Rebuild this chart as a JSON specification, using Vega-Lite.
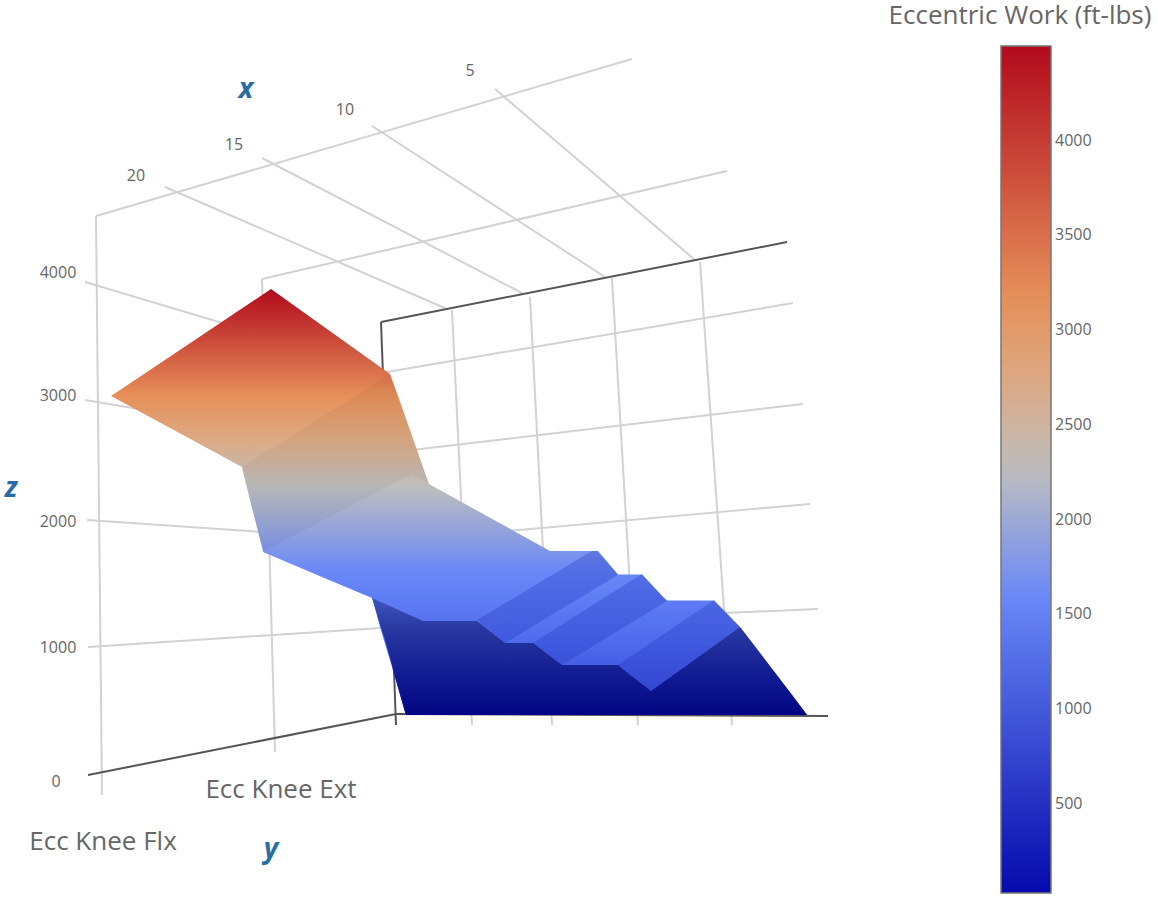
{
"$schema":"https://vega.github.io/schema/vega-lite/v6.json",
"width":1158,"height":899,"padding":0,"autosize":{"type":"none"},
"background":"white",
"config":{"view":{"stroke":null}},
"datasets":{
"grid":[
{"x":96,"y":216,"x2":632,"y2":59},{"x":262,"y":279,"x2":727,"y2":171},
{"x":96,"y":216,"x2":102,"y2":795},{"x":262,"y":279,"x2":275,"y2":752},
{"x":452,"y":310,"x2":472,"y2":725},{"x":530,"y":297,"x2":552,"y2":725},{"x":612,"y":278,"x2":638,"y2":725},{"x":700,"y":262,"x2":732,"y2":725},
{"x":165,"y":187,"x2":447,"y2":309},{"x":262,"y":158,"x2":522,"y2":293},{"x":372,"y":126,"x2":605,"y2":277},{"x":495,"y":89,"x2":695,"y2":260},
{"x":85,"y":282,"x2":387,"y2":372},{"x":387,"y":372,"x2":793,"y2":303},
{"x":85,"y":400,"x2":395,"y2":452},{"x":395,"y":452,"x2":803,"y2":404},
{"x":87,"y":520,"x2":395,"y2":541},{"x":395,"y":541,"x2":810,"y2":504},
{"x":88,"y":647,"x2":396,"y2":627},{"x":396,"y":627,"x2":818,"y2":609}
],
"frame":[
{"x":381,"y":322,"x2":787,"y2":242},{"x":381,"y":322,"x2":396,"y2":725},
{"x":88,"y":775,"x2":396,"y2":714},{"x":396,"y":714,"x2":828,"y2":716}
],
"surface":[
{"y":289,"x":271,"x2":271},{"y":374,"x":144,"x2":390},{"y":396,"x":111,"x2":398},{"y":467,"x":242,"x2":423},{"y":484,"x":246,"x2":429},
{"y":551,"x":263,"x2":550},{"y":551.1,"x":263,"x2":598},{"y":552,"x":263,"x2":599},{"y":574.4,"x":316,"x2":618},{"y":574.5,"x":316,"x2":642},
{"y":598,"x":372,"x2":664},{"y":600.4,"x":373,"x2":667},{"y":600.5,"x":373,"x2":714},{"y":627,"x":380,"x2":740},{"y":670,"x":393,"x2":773},{"y":712,"x":405,"x2":805},{"y":715,"x":406,"x2":807}
],
"fold":[
{"id":"a","y":374,"x":390,"x2":390},{"id":"a","y":467,"x":242,"x2":423},{"id":"a","y":473.9,"x":243,"x2":425},{"id":"a","y":474,"x":243,"x2":412},{"id":"a","y":552,"x":263,"x2":263},
{"id":"b","y":474,"x":412,"x2":425},{"id":"b","y":484,"x":429,"x2":429}
],
"steps":[
{"id":"s1","y":551,"x":592,"x2":597},{"id":"s1","y":575,"x":552,"x2":618},{"id":"s1","y":620,"x":477,"x2":543},{"id":"s1","y":643,"x":505,"x2":505},
{"id":"s2","y":574,"x":642,"x2":642},{"id":"s2","y":601,"x":599,"x2":667},{"id":"s2","y":643,"x":533,"x2":598},{"id":"s2","y":665,"x":562,"x2":562},
{"id":"s3","y":600,"x":714,"x2":714},{"id":"s3","y":627,"x":674,"x2":740},{"id":"s3","y":665,"x":618,"x2":687},{"id":"s3","y":691,"x":651,"x2":651}
],
"frontLeft":[
{"y":598,"x":372,"x2":372},{"y":620.9,"x":379,"x2":423},{"y":621,"x":379,"x2":477},{"y":642.9,"x":386,"x2":505},{"y":643,"x":386,"x2":533},{"y":664.9,"x":392,"x2":562},{"y":665,"x":392,"x2":618},{"y":670,"x":393,"x2":624},{"y":691,"x":399,"x2":651},{"y":712,"x":405,"x2":651},{"y":715,"x":406,"x2":651}
],
"frontRight":[
{"y":627,"x":740,"x2":740},{"y":691,"x":651,"x2":789},{"y":715,"x":651,"x2":807}
],
"vertices":[
{"x":271,"y":289,"z":4500},{"x":111,"y":396,"z":3150},{"x":390,"y":374,"z":3350},{"x":242,"y":467,"z":2500},{"x":263,"y":552,"z":1700},{"x":429,"y":484,"z":2300},
{"x":412,"y":474,"z":2350},{"x":552,"y":552,"z":1600},{"x":597,"y":550,"z":1600},{"x":618,"y":575,"z":1450},{"x":642,"y":574,"z":1450},{"x":667,"y":601,"z":1250},{"x":714,"y":600,"z":1250},{"x":740,"y":627,"z":1100},
{"x":423,"y":621,"z":1250},{"x":477,"y":620,"z":1250},{"x":505,"y":643,"z":1050},{"x":533,"y":643,"z":1050},{"x":562,"y":665,"z":900},{"x":618,"y":665,"z":900},{"x":651,"y":691,"z":800},
{"x":405,"y":712,"z":30},{"x":807,"y":715,"z":30},{"x":372,"y":598,"z":1300}
],
"ticks":[
{"x":470,"y":71,"t":"5"},{"x":345,"y":110,"t":"10"},{"x":234,"y":145,"t":"15"},{"x":136,"y":176,"t":"20"},
{"x":58,"y":273,"t":"4000"},{"x":58,"y":396,"t":"3000"},{"x":58,"y":522,"t":"2000"},{"x":58,"y":648,"t":"1000"},{"x":56,"y":782,"t":"0"}
],
"cats":[{"x":281,"y":790,"t":"Ecc Knee Ext"},{"x":103,"y":842,"t":"Ecc Knee Flx"}],
"head":[{"x":1020,"y":16,"t":"Eccentric Work (ft-lbs)"}],
"titles":[{"x":246,"y":90,"t":"x"},{"x":271,"y":850,"t":"y"},{"x":11,"y":489,"t":"z"}]
},
"layer":[
{"data":{"name":"grid"},"mark":{"type":"rule","color":"#d2d2d2","strokeWidth":2},
 "encoding":{"x":{"field":"x","type":"quantitative","scale":{"domain":[0,1158],"nice":false,"zero":false},"axis":null},"y":{"field":"y","type":"quantitative","scale":{"domain":[899,0],"nice":false,"zero":false},"axis":null},"x2":{"field":"x2"},"y2":{"field":"y2"}}},
{"data":{"name":"frame"},"mark":{"type":"rule","color":"#555555","strokeWidth":2},
 "encoding":{"x":{"field":"x","type":"quantitative"},"y":{"field":"y","type":"quantitative"},"x2":{"field":"x2"},"y2":{"field":"y2"}}},
{"data":{"name":"surface"},"mark":{"type":"area","orient":"horizontal","color":{"gradient":"linear","x1":0,"y1":0,"x2":0,"y2":1,"stops":[{"offset":0,"color":"rgb(178,10,28)"},{"offset":0.2535,"color":"rgb(230,145,90)"},{"offset":0.354,"color":"rgb(220,170,132)"},{"offset":0.465,"color":"rgb(190,190,190)"},{"offset":0.66,"color":"rgb(106,137,247)"},{"offset":0.824,"color":"rgb(80,108,238)"},{"offset":0.965,"color":"rgb(58,75,215)"},{"offset":1,"color":"rgb(58,75,215)"}]}},
 "encoding":{"y":{"field":"y","type":"quantitative"},"x":{"field":"x","type":"quantitative"},"x2":{"field":"x2"}}},
{"data":{"name":"fold"},"mark":{"type":"area","orient":"horizontal","color":"black","opacity":0.035},
 "encoding":{"y":{"field":"y","type":"quantitative"},"x":{"field":"x","type":"quantitative"},"x2":{"field":"x2"},"detail":{"field":"id"}}},
{"data":{"name":"steps"},"mark":{"type":"area","orient":"horizontal","color":"rgb(30,50,190)","opacity":0.3},
 "encoding":{"y":{"field":"y","type":"quantitative"},"x":{"field":"x","type":"quantitative"},"x2":{"field":"x2"},"detail":{"field":"id"}}},
{"data":{"name":"frontLeft"},"mark":{"type":"area","orient":"horizontal","color":{"gradient":"linear","x1":0,"y1":0,"x2":0,"y2":1,"stops":[{"offset":0,"color":"rgb(62,85,190)"},{"offset":0.27,"color":"rgb(40,55,160)"},{"offset":0.7,"color":"rgb(15,25,145)"},{"offset":1,"color":"rgb(3,5,130)"}]}},
 "encoding":{"y":{"field":"y","type":"quantitative"},"x":{"field":"x","type":"quantitative"},"x2":{"field":"x2"}}},
{"data":{"name":"frontRight"},"mark":{"type":"area","orient":"horizontal","color":{"gradient":"linear","x1":0,"y1":0,"x2":0,"y2":1,"stops":[{"offset":0,"color":"rgb(42,58,162)"},{"offset":0.6,"color":"rgb(15,25,145)"},{"offset":1,"color":"rgb(3,5,130)"}]}},
 "encoding":{"y":{"field":"y","type":"quantitative"},"x":{"field":"x","type":"quantitative"},"x2":{"field":"x2"}}},
{"data":{"name":"vertices"},"mark":{"type":"point","filled":true,"opacity":0,"size":4},
 "encoding":{"x":{"field":"x","type":"quantitative"},"y":{"field":"y","type":"quantitative"},
  "color":{"field":"z","type":"quantitative","scale":{"domain":[30,1594.5,2265,2712,3159,4500],"range":["rgb(5,10,172)","rgb(106,137,247)","rgb(190,190,190)","rgb(220,170,132)","rgb(230,145,90)","rgb(178,10,28)"],"interpolate":"rgb"},
   "legend":{"orient":"none","legendX":1001,"legendY":46,"title":null,"direction":"vertical","format":"d","gradientLength":847,"gradientThickness":50,"gradientStrokeColor":"#777777","gradientStrokeWidth":1.5,"values":[500,1000,1500,2000,2500,3000,3500,4000],"labelFont":"Open Sans","labelFontSize":16,"labelColor":"#666666","labelOffset":4}}}},
{"data":{"name":"ticks"},"mark":{"type":"text","font":"Open Sans","fontSize":16,"color":"#666666","align":"center","baseline":"middle"},
 "encoding":{"x":{"field":"x","type":"quantitative"},"y":{"field":"y","type":"quantitative"},"text":{"field":"t"}}},
{"data":{"name":"cats"},"mark":{"type":"text","font":"Open Sans","fontSize":26,"color":"#666666","align":"center","baseline":"middle"},
 "encoding":{"x":{"field":"x","type":"quantitative"},"y":{"field":"y","type":"quantitative"},"text":{"field":"t"}}},
{"data":{"name":"head"},"mark":{"type":"text","font":"Open Sans","fontSize":26,"color":"#666666","align":"center","baseline":"middle"},
 "encoding":{"x":{"field":"x","type":"quantitative"},"y":{"field":"y","type":"quantitative"},"text":{"field":"t"}}},
{"data":{"name":"titles"},"mark":{"type":"text","font":"Open Sans","fontSize":28,"fontWeight":"bold","fontStyle":"italic","color":"#2a6ca5","align":"center","baseline":"middle"},
 "encoding":{"x":{"field":"x","type":"quantitative"},"y":{"field":"y","type":"quantitative"},"text":{"field":"t"}}}
]
}
